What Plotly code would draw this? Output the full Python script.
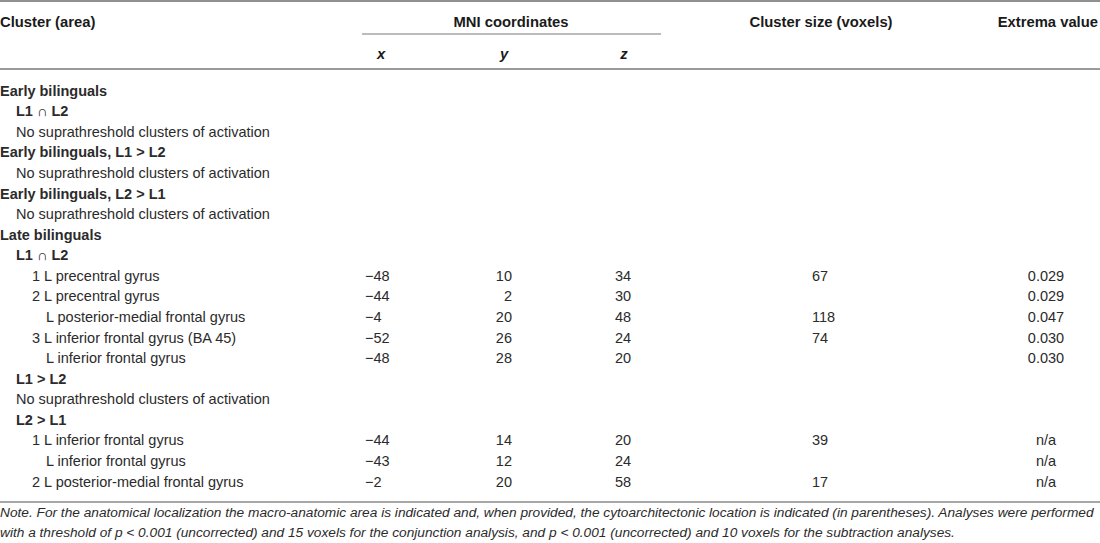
import plotly.graph_objects as go

# table content
header_top = ["Cluster (area)", "MNI coordinates", "Cluster size (voxels)", "Extrema value"]
header_sub = ["x", "y", "z"]

row_labels = [
    "Early bilinguals",
    "L1 ∩ L2",
    "No suprathreshold clusters of activation",
    "Early bilinguals, L1 > L2",
    "No suprathreshold clusters of activation",
    "Early bilinguals, L2 > L1",
    "No suprathreshold clusters of activation",
    "Late bilinguals",
    "L1 ∩ L2",
    "1 L precentral gyrus",
    "2 L precentral gyrus",
    "L posterior-medial frontal gyrus",
    "3 L inferior frontal gyrus (BA 45)",
    "L inferior frontal gyrus",
    "L1 > L2",
    "No suprathreshold clusters of activation",
    "L2 > L1",
    "1 L inferior frontal gyrus",
    "L inferior frontal gyrus",
    "2 L posterior-medial frontal gyrus",
]
row_level = [0, 1, 1, 0, 1, 0, 1, 0, 1, 2, 2, 3, 2, 3, 1, 1, 1, 2, 3, 2]
row_bold = [True, True, False, True, False, True, False, True, True,
            False, False, False, False, False, True, False, True, False, False, False]

mni_x = [None] * 9 + [-48, -44, -4, -52, -48] + [None] * 3 + [-44, -43, -2]
mni_y = [None] * 9 + [10, 2, 20, 26, 28] + [None] * 3 + [14, 12, 20]
mni_z = [None] * 9 + [34, 30, 48, 24, 20] + [None] * 3 + [20, 24, 58]
cluster_size = [None] * 9 + [67, None, 118, 74, None] + [None] * 3 + [39, None, 17]
extrema = [None] * 9 + ["0.029", "0.029", "0.047", "0.030", "0.030"] + [None] * 3 + ["n/a", "n/a", "n/a"]

note_lines = [
    "Note. For the anatomical localization the macro-anatomic area is indicated and, when provided, "
    "the cytoarchitectonic location is indicated (in parentheses). Analyses were performed",
    "with a threshold of p < 0.001 (uncorrected) and 15 voxels for the conjunction analysis, "
    "and p < 0.001 (uncorrected) and 10 voxels for the subtraction analyses.",
]

W, H = 1100, 543
FONT = "Liberation Sans, Arial, DejaVu Sans, sans-serif"
TXT = "#2b2b2b"
HEAD = "#1a1a1a"
BODY = 14.5

row_y0, row_step = 92, 20.58
ys = [row_y0 + i * row_step for i in range(len(row_labels))]
indent = [0, 16, 32, 46]


def num(v):
    if v is None:
        return ""
    return str(v).replace("-", "\u2212")


fig = go.Figure()

def add_col(xs, yv, texts, pos, size=BODY, color=TXT):
    fig.add_trace(go.Scatter(
        x=xs, y=yv, text=texts, mode="text", textposition=pos,
        textfont=dict(family=FONT, size=size, color=color),
        hoverinfo="skip", showlegend=False,
    ))

# header rows
add_col([0], [23], ["<b>" + header_top[0] + "</b>"], "middle right", 14.8, HEAD)
add_col([511], [23], ["<b>" + header_top[1] + "</b>"], "middle center", 14.8, HEAD)
add_col([821], [23], ["<b>" + header_top[2] + "</b>"], "middle center", 14.8, HEAD)
add_col([1098], [23], ["<b>" + header_top[3] + "</b>"], "middle left", 14.8, HEAD)
add_col([381, 504, 624], [55, 55, 55], ["<b><i>" + s + "</i></b>" for s in header_sub],
        "middle center", 14.8, HEAD)

# first column
labels = [("<b>" + t + "</b>") if b else t for t, b in zip(row_labels, row_bold)]
add_col([indent[l] for l in row_level], ys, labels, "middle right")

# numeric columns
add_col([365] * len(ys), ys, [num(v) for v in mni_x], "middle right")
add_col([512] * len(ys), ys, [num(v) for v in mni_y], "middle left")
add_col([615] * len(ys), ys, [num(v) for v in mni_z], "middle right")
add_col([812] * len(ys), ys, [num(v) for v in cluster_size], "middle right")
add_col([1046] * len(ys), ys, [num(v) for v in extrema], "middle center")

# footnote
add_col([0, 0], [514, 534], ["<i>" + s + "</i>" for s in note_lines], "middle right", 13.7)

# rules
rules = [
    dict(x0=0, x1=W, y0=1, y1=1, color="#6b6b6b", w=1.5),
    dict(x0=362, x1=661, y0=34, y1=34, color="#7a7a7a", w=1.2),
    dict(x0=0, x1=W, y0=69, y1=69, color="#9a9a9a", w=2),
    dict(x0=0, x1=W, y0=502, y1=502, color="#8a8a8a", w=1.5),
]
for r in rules:
    fig.add_shape(type="line", xref="x", yref="y", x0=r["x0"], x1=r["x1"], y0=r["y0"], y1=r["y1"],
                  line=dict(color=r["color"], width=r["w"]))

fig.update_layout(
    width=W, height=H,
    margin=dict(l=0, r=0, t=0, b=0),
    paper_bgcolor="white", plot_bgcolor="white",
    xaxis=dict(range=[0, W], visible=False, fixedrange=True),
    yaxis=dict(range=[H, 0], visible=False, fixedrange=True),
)

# page body has an 8px default margin; drop it so the figure fills the window
fig.write_html("out.html", config={"displayModeBar": False},
               post_script="document.body.style.margin='0px';document.body.style.overflow='hidden';")
